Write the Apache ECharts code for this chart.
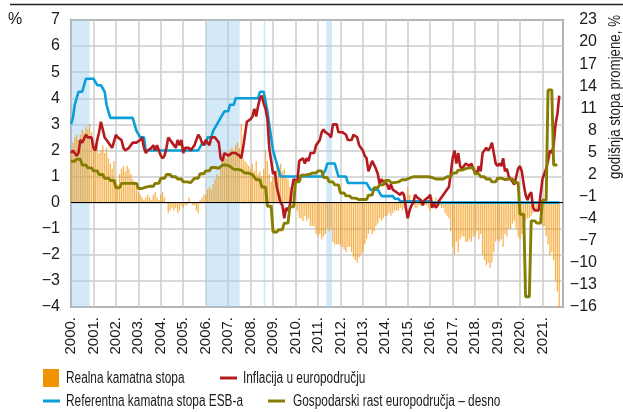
<!doctype html>
<html>
<head>
<meta charset="utf-8">
<title>Realna kamatna stopa, inflacija i rast europodručja</title>
<script src="https://cdn.jsdelivr.net/npm/echarts@6.0.0/dist/echarts.min.js"></script>
<style>
	html, body { margin: 0; padding: 0; background: #fff; }
	#chart { width: 623px; height: 412px; }
</style>
</head>
<body>
<div id="chart"></div>
<script>
	// monthly data, Jan 2000 - Oct 2021
	var startYear = 2000;
	var monthsOnAxis = 263;

	// real interest rate, %, left axis (bars)
	var realRate = [
		2.0, 2.3, 2.5, 2.6, 2.4, 2.6, 2.8, 2.7, 2.9, 2.8, 3.0, 2.7,
		2.2, 2.1, 2.3, 1.9, 2.0, 2.2, 1.9, 2.1, 1.7, 1.5, 1.3, 1.6,
		0.9, 0.7, 1.1, 1.3, 1.4, 1.2, 1.4, 1.3, 1.1, 0.9, 0.8, 0.7,
		0.4, 0.3, 0.2, 0.1, 0.2, 0.3, 0.2, 0.1, 0.3, 0.4, 0.2, 0.1,
		0.3, 0.4, 0.2, 0.0, -0.4, -0.3, -0.2, -0.3, -0.2, -0.4, -0.3, -0.1,
		-0.2, -0.1, -0.1, 0.2, 0.0, -0.1, -0.1, -0.3, -0.4, 0.1, 0.2, 0.3,
		0.3, 0.5, 0.6, 0.5, 0.7, 0.9, 1.1, 1.0, 1.4, 1.6, 1.8, 1.7,
		1.9, 2.0, 2.1, 2.0, 2.2, 2.3, 2.1, 3.0, 1.7, 1.6, 1.5, 1.4,
		1.3, 1.5, 1.2, 1.6, 1.1, 1.2, 1.0, 1.3, 2.0, 1.6, 1.1, 0.8,
		1.0, 1.2, 1.4, 1.3, 1.5, 1.2, 1.3, 1.0, 0.9, 0.6, 0.3, 0.1,
		-0.1, -0.3, -0.6, -0.6, -0.7, -0.5, -0.7, -0.6, -0.9, -0.9, -0.9, -1.2,
		-1.3, -1.2, -1.4, -1.3, -1.2, -1.0, -1.1, -1.0, -1.5, -1.6, -1.6, -1.6,
		-1.6, -1.7, -1.8, -1.9, -1.7, -1.7, -1.9, -2.1, -2.2, -2.3, -2.1, -2.0,
		-1.9, -1.6, -1.4, -1.2, -1.0, -1.2, -1.1, -0.9, -0.8, -0.6, -0.7, -0.6,
		-0.5, -0.5, -0.4, -0.5, -0.4, -0.3, -0.3, -0.3, -0.2, -0.3, -0.2, 0.1,
		0.6, 0.3, 0.1, 0.0, -0.2, -0.2, -0.1, -0.1, 0.1, -0.1, -0.1, -0.2,
		-0.3, 0.2, 0.0, 0.2, 0.1, -0.1, -0.2, -0.2, -0.4, -0.5, -0.6, -1.1,
		-1.7, -2.0, -1.5, -1.9, -1.4, -1.3, -1.3, -1.5, -1.5, -1.4, -1.5, -1.3,
		-1.3, -1.1, -1.4, -1.2, -2.0, -2.2, -2.4, -2.3, -2.5, -2.3, -1.9, -1.5,
		-1.4, -1.5, -1.4, -1.7, -1.2, -1.3, -1.0, -1.0, -0.8, -0.7, -1.0, -1.3,
		-1.4, -1.2, -0.9, -0.7, -0.6, -0.6, -0.5, -0.4, -0.3, -0.3, -0.3, -0.4,
		-0.9, -0.9, -1.3, -1.6, -2.0, -1.9, -2.2, -3.0, -3.4, -4.0
	];

	// ECB main refinancing rate, %, left axis
	var refRate = [
		3.0, 3.25, 3.75, 3.75, 4.25, 4.25, 4.25, 4.5, 4.75, 4.75, 4.75, 4.75,
		4.75, 4.75, 4.5, 4.5, 4.5, 4.5, 4.25, 3.75, 3.75, 3.25, 3.25, 3.25,
		3.25, 3.25, 3.25, 3.25, 3.25, 3.25, 3.25, 3.25, 3.25, 3.25, 3.25, 2.75,
		2.75, 2.5, 2.5, 2.5, 2.0, 2.0, 2.0, 2.0, 2.0, 2.0, 2.0, 2.0,
		2.0, 2.0, 2.0, 2.0, 2.0, 2.0, 2.0, 2.0, 2.0, 2.0, 2.0, 2.0,
		2.0, 2.0, 2.0, 2.0, 2.0, 2.0, 2.0, 2.0, 2.0, 2.0, 2.25, 2.25,
		2.25, 2.5, 2.5, 2.5, 2.75, 2.75, 3.0, 3.0, 3.25, 3.25, 3.5, 3.5,
		3.5, 3.75, 3.75, 3.75, 4.0, 4.0, 4.0, 4.0, 4.0, 4.0, 4.0, 4.0,
		4.0, 4.0, 4.0, 4.0, 4.0, 4.25, 4.25, 4.25, 4.25, 3.5, 3.0, 2.5,
		2.0, 2.0, 1.5, 1.25, 1.0, 1.0, 1.0, 1.0, 1.0, 1.0, 1.0, 1.0,
		1.0, 1.0, 1.0, 1.0, 1.0, 1.0, 1.0, 1.0, 1.0, 1.0, 1.0, 1.0,
		1.0, 1.0, 1.0, 1.0, 1.25, 1.5, 1.5, 1.5, 1.5, 1.5, 1.25, 1.0,
		1.0, 1.0, 1.0, 1.0, 0.75, 0.75, 0.75, 0.75, 0.75, 0.75, 0.75, 0.75,
		0.75, 0.75, 0.75, 0.75, 0.5, 0.5, 0.5, 0.5, 0.5, 0.5, 0.25, 0.25,
		0.25, 0.25, 0.25, 0.25, 0.25, 0.15, 0.15, 0.15, 0.05, 0.05, 0.05, 0.05,
		0.05, 0.05, 0.05, 0.05, 0.05, 0.05, 0.05, 0.05, 0.05, 0.05, 0.05, 0.05,
		0.05, 0.05, 0, 0, 0, 0, 0, 0, 0, 0, 0, 0,
		0, 0, 0, 0, 0, 0, 0, 0, 0, 0, 0, 0,
		0, 0, 0, 0, 0, 0, 0, 0, 0, 0, 0, 0,
		0, 0, 0, 0, 0, 0, 0, 0, 0, 0, 0, 0,
		0, 0, 0, 0, 0, 0, 0, 0, 0, 0, 0, 0,
		0, 0, 0, 0, 0, 0, 0, 0, 0, 0
	];

	// euro area inflation, annual rate, %, left axis
	var inflation = [
		1.9, 2.0, 2.0, 1.8, 1.9, 2.4, 2.3, 2.3, 2.6, 2.5, 2.5, 2.5,
		2.1, 2.0, 2.4, 2.7, 3.1, 2.8, 2.5, 2.4, 2.3, 2.2, 2.1, 2.1,
		2.6, 2.5, 2.5, 2.4, 2.1, 2.0, 2.0, 2.1, 2.1, 2.3, 2.3, 2.3,
		2.3, 2.4, 2.5, 2.1, 1.9, 2.0, 2.0, 2.1, 2.2, 2.0, 2.2, 2.0,
		1.8, 1.7, 1.8, 2.1, 2.5, 2.4, 2.3, 2.3, 2.1, 2.4, 2.2, 2.4,
		1.9, 2.1, 2.1, 2.1, 2.0, 2.1, 2.2, 2.2, 2.6, 2.5, 2.3, 2.2,
		2.4, 2.3, 2.2, 2.5, 2.5, 2.5, 2.4, 2.3, 1.7, 1.6, 1.9, 1.9,
		1.8, 1.8, 1.9, 1.9, 1.9, 1.9, 1.8, 1.7, 2.1, 2.6, 3.1, 3.1,
		3.2, 3.3, 3.6, 3.3, 3.7, 4.0, 4.1, 3.8, 3.6, 3.2, 2.1, 1.6,
		1.1, 1.2, 0.6, 0.6, 0.0, -0.1, -0.6, -0.2, -0.3, -0.1, 0.5, 0.9,
		0.9, 0.8, 1.6, 1.6, 1.7, 1.5, 1.7, 1.6, 1.9, 1.9, 1.9, 2.2,
		2.3, 2.4, 2.7, 2.8, 2.7, 2.7, 2.6, 2.5, 3.0, 3.0, 3.0, 2.7,
		2.7, 2.7, 2.7, 2.6, 2.4, 2.4, 2.4, 2.6, 2.6, 2.5, 2.2, 2.2,
		2.0, 1.8, 1.7, 1.2, 1.4, 1.6, 1.6, 1.3, 1.1, 0.7, 0.9, 0.8,
		0.8, 0.7, 0.5, 0.7, 0.5, 0.5, 0.4, 0.4, 0.3, 0.4, 0.3, -0.2,
		-0.6, -0.3, -0.1, 0.0, 0.3, 0.2, 0.2, 0.1, -0.1, 0.1, 0.1, 0.2,
		0.3, -0.2, 0.0, -0.2, -0.1, 0.1, 0.2, 0.2, 0.4, 0.5, 0.6, 1.1,
		1.7, 2.0, 1.5, 1.9, 1.4, 1.3, 1.3, 1.5, 1.5, 1.4, 1.5, 1.3,
		1.3, 1.1, 1.4, 1.2, 1.9, 2.0, 2.1, 2.0, 2.1, 2.3, 1.9, 1.5,
		1.4, 1.5, 1.4, 1.7, 1.2, 1.3, 1.0, 1.0, 0.8, 0.7, 1.0, 1.3,
		1.4, 1.2, 0.7, 0.3, 0.1, 0.3, 0.4, -0.2, -0.3, -0.3, -0.3, -0.3,
		0.9, 0.9, 1.3, 1.6, 2.0, 1.9, 2.2, 3.0, 3.4, 4.1
	];

	// euro area GDP growth, annual rate, %, quarterly, right axis (2000Q1 - 2021Q3)
	var gdpQuarterly = [
		3.8, 4.1, 3.3, 2.9,
		2.5, 2.0, 1.5, 1.2,
		0.2, 0.8, 0.8, 0.8,
		0.1, 0.3, 0.4, 0.8,
		1.5, 2.0, 1.7, 1.4,
		1.0, 0.9, 1.5, 2.1,
		2.5, 2.95, 2.85, 3.3,
		3.1, 2.7, 2.6, 2.2,
		2.0, 1.3, 0.3, -2.3,
		-5.8, -5.5, -4.6, -2.4,
		1.0, 1.9, 2.0, 2.2,
		2.5, 1.6, 1.0, 0.6,
		-0.5, -0.9, -1.2, -1.4,
		-1.4, -0.8, 0.2, 0.6,
		1.2, 0.9, 1.0, 1.3,
		1.5, 1.7, 1.7, 1.7,
		1.6, 1.4, 1.4, 1.7,
		2.2, 2.6, 2.8, 2.9,
		2.1, 1.7, 1.4, 1.0,
		1.5, 1.3, 1.4, 0.9,
		-3.4, -14.6, -4.3, -4.6,
		-1.5, 13.5, 3.3
	];

	// ECB tightening periods (shaded), in years
	var shadePeriods = [
		[2000.0, 2000.83],
		[2006.03, 2007.51],
		[2008.58, 2008.66],
		[2011.37, 2011.63]
	];

	var seriesNames = [
		'Realna kamatna stopa',
		'Inflacija u europodručju',
		'Referentna kamatna stopa ESB-a',
		'Gospodarski rast europodručja – desno'
	];
	var seriesColors = ['#f39200', '#b51a1e', '#0a9fda', '#867e00'];
	var rightAxisName = 'godišnja stopa promjene, %';

	var font = "'Liberation Sans Narrow', 'Liberation Sans', Arial, sans-serif";
	var textColor = '#1a1a1a';
	var narrow = 0.74; // horizontal squeeze to imitate the condensed face

	function monthX(i) {
		return startYear + i / 12;
	}

	function toPoints(arr) {
		var out = [];
		for (var i = 0; i < arr.length; i++) {
			out.push([monthX(i), arr[i]]);
		}
		return out;
	}

	// quarterly values are held for each month of their quarter
	var gdpPoints = [];
	for (var q = 0; q < gdpQuarterly.length; q++) {
		for (var m = 0; m < 3; m++) {
			gdpPoints.push([monthX(q * 3 + m), gdpQuarterly[q]]);
		}
	}

	function minusFmt(v) {
		return v < 0 ? '\u2212' + Math.abs(v) : String(v);
	}

	var shadeData = shadePeriods.map(function(p) {
		return [{ xAxis: p[0] }, { xAxis: p[1] }];
	});

	// legend drawn by hand: icon box + squeezed label
	var legendSlots = [
		{ x: 43, y: 378, text: 66, box: true },
		{ x: 220, y: 378, text: 243 },
		{ x: 43, y: 401, text: 66 },
		{ x: 268, y: 401, text: 293 }
	];
	var legendGraphics = [];
	legendSlots.forEach(function(s, i) {
		if (s.box) {
			legendGraphics.push({
				type: 'rect',
				shape: { x: s.x, y: s.y - 9, width: 16, height: 18 },
				style: { fill: seriesColors[i] }
			});
		} else {
			legendGraphics.push({
				type: 'rect',
				shape: { x: s.x, y: s.y - 1.5, width: 17, height: 3 },
				style: { fill: seriesColors[i] }
			});
		}
		legendGraphics.push({
			type: 'text',
			x: s.text, y: s.y + 1,
			scaleX: narrow,
			style: {
				text: seriesNames[i],
				fontFamily: font,
				fontSize: 16,
				fill: textColor,
				align: 'left',
				verticalAlign: 'middle'
			}
		});
	});

	var chart = echarts.init(document.getElementById('chart'), null, { renderer: 'canvas' });
	chart.setOption({
		animation: false,
		backgroundColor: '#fff',
		grid: {
			left: 71, right: 60, top: 20, bottom: 105,
			show: true,
			borderColor: '#4a4a4a',
			borderWidth: 1.6
		},
		xAxis: {
			type: 'value',
			min: startYear,
			max: startYear + monthsOnAxis / 12,
			interval: 1,
			axisLine: { show: false },
			axisTick: { show: false },
			splitLine: { show: true, lineStyle: { color: '#cccccc', width: 1.5 } },
			axisLabel: {
				rotate: 90,
				margin: 10,
				fontFamily: font,
				fontSize: 15,
				color: textColor,
				formatter: function(v) {
					return Math.abs(v - Math.round(v)) < 1e-6 ? Math.round(v) + '.' : '';
				}
			}
		},
		yAxis: [{
			type: 'value',
			position: 'left',
			min: -4, max: 7, interval: 1,
			axisLine: { show: false },
			axisTick: { show: false },
			splitLine: { show: true, lineStyle: { color: '#cccccc', width: 1.5 } },
			axisLabel: { margin: 11, fontFamily: font, fontSize: 16, color: textColor, formatter: minusFmt }
		}, {
			type: 'value',
			position: 'right',
			min: -16, max: 23, interval: 3,
			axisLine: { show: false },
			axisTick: { show: false },
			splitLine: { show: false },
			axisLabel: { margin: 34, align: 'right', fontFamily: font, fontSize: 16, color: textColor, formatter: minusFmt }
		}],
		series: [{
			name: seriesNames[0],
			type: 'bar',
			yAxisIndex: 0,
			barWidth: 1.3,
			itemStyle: { color: seriesColors[0], opacity: 0.68 },
			data: toPoints(realRate),
			markArea: {
				silent: true,
				itemStyle: { color: 'rgba(160, 206, 240, 0.45)' },
				data: shadeData
			},
			markLine: {
				silent: true,
				symbol: 'none',
				label: { show: false },
				lineStyle: { color: '#000', width: 1.2, type: 'solid' },
				data: [{ yAxis: 0 }]
			}
		}, {
			name: seriesNames[2],
			type: 'line',
			yAxisIndex: 0,
			symbol: 'none',
			lineStyle: { color: seriesColors[2], width: 2.6 },
			itemStyle: { color: seriesColors[2] },
			data: toPoints(refRate)
		}, {
			name: seriesNames[1],
			type: 'line',
			yAxisIndex: 0,
			symbol: 'none',
			lineStyle: { color: seriesColors[1], width: 2.6 },
			itemStyle: { color: seriesColors[1] },
			data: toPoints(inflation)
		}, {
			name: seriesNames[3],
			type: 'line',
			yAxisIndex: 1,
			symbol: 'none',
			lineStyle: { color: seriesColors[3], width: 2.9 },
			itemStyle: { color: seriesColors[3] },
			data: gdpPoints
		}],
		graphic: [{
			type: 'line',
			shape: { x1: 10, y1: 4.5, x2: 623, y2: 4.5 },
			style: { stroke: '#222', lineWidth: 1.5 }
		}, {
			type: 'text',
			x: 8, y: 12,
			style: { text: '%', fontFamily: font, fontSize: 16, fill: textColor }
		}, {
			type: 'text',
			x: 616, y: 97,
			rotation: Math.PI / 2,
			scaleX: 0.83,
			style: {
				text: rightAxisName,
				fontFamily: font,
				fontSize: 16,
				fill: textColor,
				align: 'center',
				verticalAlign: 'middle'
			}
		}].concat(legendGraphics)
	});
</script>
</body>
</html>
